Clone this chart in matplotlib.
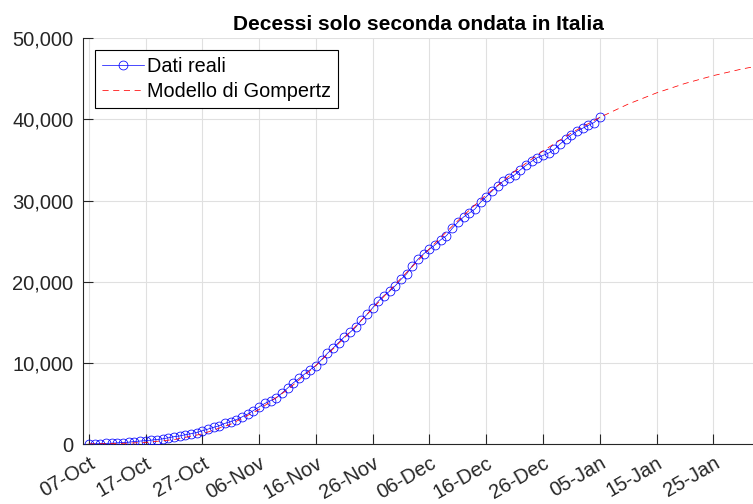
import matplotlib
matplotlib.use('Agg')
import matplotlib.pyplot as plt
import matplotlib.dates as mdates
import pandas as pd

plt.rcParams['font.family'] = ['Liberation Sans', 'DejaVu Sans']

# decessi cumulati dal 07-Oct (dati reali, giornalieri)
decessi = [0, 22, 50, 79, 105, 144, 185, 228, 311, 366,
           413, 482, 555, 644, 771, 907, 998, 1149, 1277, 1418,
           1639, 1844, 2061, 2260, 2557, 2765, 2998, 3351, 3703, 4131,
           4577, 5002, 5333, 5689, 6269, 6892, 7528, 8078, 8622, 9168,
           9672, 10403, 11156, 11809, 12508, 13200, 13762, 14392, 15245, 15967,
           16789, 17616, 18302, 18843, 19515, 20300, 20984, 21977, 22791, 23453,
           24017, 24545, 25179, 25678, 26565, 27326, 27975, 28459, 28950, 29796,
           30476, 31159, 31833, 32386, 32738, 33153, 33781, 34334, 34839, 35298,
           35559, 35864, 36309, 36968, 37543, 38098, 38560, 38924, 39271, 39619,
           40268]
date_reali = pd.date_range('2020-10-07', periods=len(decessi), freq='D')

# modello di Gompertz, letto ogni 5 giorni
modello = [12, 57, 197, 544, 1247, 2451, 4258, 6694, 9670, 13070,
           16710, 20430, 24070, 27520, 30710, 33580, 36120, 38340, 40250, 41890,
           43270, 44430, 45400, 46210, 46880]
date_modello = pd.date_range('2020-10-07', periods=len(modello), freq='5D')

tick_date = pd.date_range('2020-10-07', '2021-01-25', freq='10D')

fig = plt.figure(figsize=(7.53, 5.04), dpi=100)
ax = fig.add_axes([0.1105, 0.119, 0.8895, 0.805])

ax.plot(date_reali, decessi, '-o', color='#0000ff', lw=0.5, ms=6.4, mfc='none',
        mew=0.55, label='Dati reali', zorder=3)
ax.plot(date_modello, modello, '--', color='#ff0000', lw=0.55, dashes=(8, 6),
        label='Modello di Gompertz', zorder=4)

ax.set_xlim(pd.Timestamp('2020-10-06'), pd.Timestamp('2021-02-01'))
ax.set_ylim(0, 50000)
ax.set_yticks(range(0, 50001, 10000))
ax.yaxis.set_major_formatter(matplotlib.ticker.StrMethodFormatter('{x:,.0f}'))
ax.set_xticks(tick_date)
ax.xaxis.set_major_formatter(mdates.DateFormatter('%d-%b'))
plt.setp(ax.get_xticklabels(), rotation=30, ha='right', rotation_mode='anchor')

ax.grid(True, color='#e0e0e0', lw=0.8)
ax.set_axisbelow(True)
for s in ['top', 'right']:
    ax.spines[s].set_visible(False)
for s in ['left', 'bottom']:
    ax.spines[s].set_color('#262626')
ax.tick_params(direction='in', length=7, width=0.8, colors='#262626',
               labelsize=14.5, pad=7)

ax.set_title('Decessi solo seconda ondata in Italia', fontsize=15, fontweight='bold', pad=6)
leg = ax.legend(loc='upper left', fontsize=14.3, fancybox=False, edgecolor='black',
                framealpha=1, handlelength=2.1, handletextpad=0.15,
                borderaxespad=0.6, borderpad=0.35, labelspacing=0.3)
leg.get_frame().set_linewidth(0.8)

fig.savefig('out.png', dpi=100)
